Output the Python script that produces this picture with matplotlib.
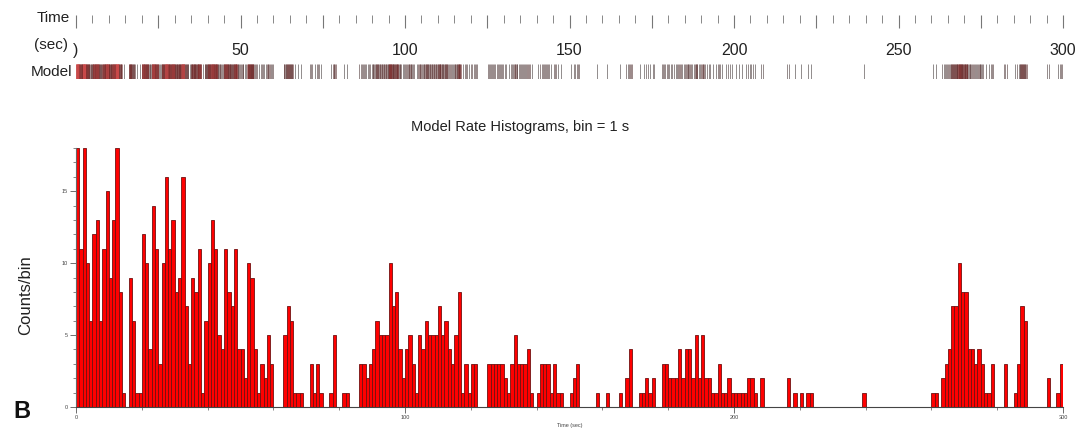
import matplotlib
matplotlib.use("Agg")
import matplotlib.pyplot as plt
import numpy as np
from matplotlib.colors import LinearSegmentedColormap
from matplotlib.ticker import MultipleLocator, FuncFormatter

plt.rcParams['font.family'] = ['Liberation Sans', 'DejaVu Sans']

# spike counts per 1 s bin (0..299 s)
counts_0_49 = [18, 11, 18, 10, 6, 12, 13, 6, 11, 15,
               9, 13, 18, 8, 1, 0, 9, 6, 1, 1,
               12, 10, 4, 14, 11, 3, 10, 16, 11, 13,
               8, 9, 16, 7, 3, 9, 8, 11, 1, 6,
               10, 13, 11, 5, 4, 11, 8, 7, 11, 4]
counts_50_99 = [4, 2, 10, 9, 4, 1, 3, 2, 5, 3,
                0, 0, 0, 5, 7, 6, 1, 1, 1, 0,
                0, 3, 1, 3, 1, 0, 0, 1, 5, 0,
                0, 1, 1, 0, 0, 0, 3, 3, 2, 3,
                4, 6, 5, 5, 5, 10, 7, 8, 4, 2]
counts_100_149 = [4, 5, 3, 1, 5, 4, 6, 5, 5, 5,
                  7, 5, 6, 4, 3, 5, 8, 1, 3, 1,
                  3, 3, 0, 0, 0, 3, 3, 3, 3, 3,
                  2, 1, 3, 5, 3, 3, 3, 4, 1, 0,
                  1, 3, 3, 3, 1, 3, 1, 1, 0, 0]
counts_150_199 = [1, 2, 3, 0, 0, 0, 0, 0, 1, 0,
                  0, 1, 0, 0, 0, 1, 0, 2, 4, 0,
                  0, 1, 1, 2, 1, 2, 0, 0, 3, 3,
                  2, 2, 2, 4, 2, 4, 4, 2, 5, 2,
                  5, 2, 2, 1, 1, 3, 1, 1, 2, 1]
counts_200_249 = [1, 1, 1, 1, 2, 2, 1, 0, 2, 0,
                  0, 0, 0, 0, 0, 0, 2, 0, 1, 0,
                  1, 0, 1, 1, 0, 0, 0, 0, 0, 0,
                  0, 0, 0, 0, 0, 0, 0, 0, 0, 1,
                  0, 0, 0, 0, 0, 0, 0, 0, 0, 0]
counts_250_299 = [0, 0, 0, 0, 0, 0, 0, 0, 0, 0,
                  1, 1, 0, 2, 3, 4, 7, 7, 10, 8,
                  8, 4, 4, 3, 4, 3, 1, 1, 3, 0,
                  0, 0, 3, 0, 0, 1, 3, 7, 6, 0,
                  0, 0, 0, 0, 0, 2, 0, 0, 1, 3]

counts = np.array(counts_0_49 + counts_50_99 + counts_100_149
                  + counts_150_199 + counts_200_249 + counts_250_299)
bin_starts = np.arange(len(counts))

title = "Model Rate Histograms, bin = 1 s"

W, H = 1090, 434
fig = plt.figure(figsize=(W / 100, H / 100), dpi=100)


def fx(px):
    return px / W


def fy(py):
    return 1 - py / H


x0, x1 = 76, 1063

# top time ruler
ax_t = fig.add_axes([fx(x0), fy(15), fx(x1 - x0), 0.001])
ax_t.set_xlim(0, 300)
ax_t.set_yticks([])
for s in ax_t.spines.values():
    s.set_visible(False)
ax_t.xaxis.set_major_locator(MultipleLocator(25))
ax_t.xaxis.set_minor_locator(MultipleLocator(5))
ax_t.xaxis.set_major_formatter(FuncFormatter(
    lambda v, p: ')' if v == 0 else (f"{int(v)}" if v % 50 == 0 else '')))
ax_t.tick_params(axis='x', which='major', length=9, width=0.8, color='#777777',
                 pad=11, labelsize=11.5, labelcolor='#222222')
ax_t.tick_params(axis='x', which='minor', length=6, width=0.7, color='#888888')
fig.text(fx(70), fy(18), "Time", ha='right', va='center', fontsize=11, color='#222222')
fig.text(fx(68), fy(45), "(sec)", ha='right', va='center', fontsize=11, color='#222222')

# spike raster derived from the bin counts
ax_r = fig.add_axes([fx(x0), fy(79), fx(x1 - x0), 15 / H])
ax_r.set_xlim(0, 300)
ax_r.set_ylim(0, 1)
ax_r.axis('off')
spk_t = []
spk_c = []
for b, c in zip(bin_starts, counts):
    for k in range(c):
        spk_t.append(b + (k + 0.5) / c)
        spk_c.append(c)
cmap = LinearSegmentedColormap.from_list('rast', ['#3a3a3a', '#6a2222', '#c84848'])
ax_r.vlines(spk_t, 0, 1, colors=cmap(np.array(spk_c) / 18.0), linewidth=0.5, alpha=0.8)
fig.text(fx(72), fy(72), "Model", ha='right', va='center', fontsize=11, color='#222222')

# rate histogram
ax = fig.add_axes([fx(x0), fy(407), fx(x1 - x0), (407 - 148) / H])
ax.bar(bin_starts, counts, width=1, align='edge', color='#ff0000',
       edgecolor='#701010', linewidth=0.6)
ax.set_xlim(0, 300)
ax.set_ylim(0, 18)
for side in ['top', 'right']:
    ax.spines[side].set_visible(False)
ax.spines['left'].set_color('#666666')
ax.spines['bottom'].set_color('#444444')
ax.spines['left'].set_linewidth(0.8)
ax.spines['bottom'].set_linewidth(0.8)
ax.yaxis.set_major_locator(MultipleLocator(5))
ax.yaxis.set_minor_locator(MultipleLocator(1))
ax.xaxis.set_major_locator(MultipleLocator(100))
ax.xaxis.set_minor_locator(MultipleLocator(20))
ax.tick_params(axis='both', which='major', length=4, width=0.6, color='#555555',
               labelsize=4, labelcolor='#444444', pad=2)
ax.tick_params(axis='both', which='minor', length=2.5, width=0.5, color='#555555')
ax.set_xlabel("Time (sec)", fontsize=4, color='#444444', labelpad=2)

fig.text(fx(520), fy(127), title, ha='center', va='center', fontsize=10.5, color='#222222')
fig.text(fx(26), fy(295), "Counts/bin", ha='center', va='center', rotation=90,
         fontsize=12, color='#222222')
fig.text(fx(22), fy(411), "B", ha='center', va='center', fontsize=17,
         fontweight='bold', color='#111111')

fig.savefig("out.png", dpi=100, facecolor='white')
